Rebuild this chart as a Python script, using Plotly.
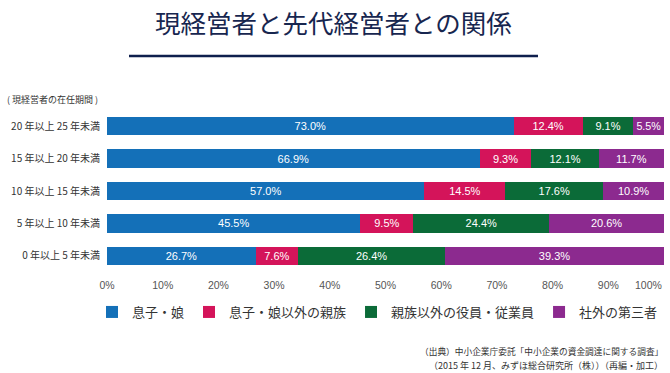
import plotly.graph_objects as go

categories = ["20 年以上 25 年未満", "15 年以上 20 年未満", "10 年以上 15 年未満",
              "5 年以上 10 年未満", "0 年以上 5 年未満"]
series_names = ["息子・娘", "息子・娘以外の親族", "親族以外の役員・従業員", "社外の第三者"]
son_daughter = [73.0, 66.9, 57.0, 45.5, 26.7]
other_relatives = [12.4, 9.3, 14.5, 9.5, 7.6]
employees = [9.1, 12.1, 17.6, 24.4, 26.4]
third_party = [5.5, 11.7, 10.9, 20.6, 39.3]
tick_vals = [0, 10, 20, 30, 40, 50, 60, 70, 80, 90, 100]
tick_text = ["0%", "10%", "20%", "30%", "40%", "50%", "60%", "70%", "80%", "90%", "100%"]

colors = ["#1470b8", "#d4145a", "#0b6b38", "#8c2a8f"]
values = [son_daughter, other_relatives, employees, third_party]

W, H = 670, 373
L, R, T, B = 107, 6, 110, 101
pw = W - L - R
ph = H - T - B

def px2x(px):
    return (px - L) / pw

def px2y(py):
    return (H - B - py) / ph

JP = "Noto Sans CJK JP"
NUM = "Liberation Sans, Noto Sans CJK JP"
TICKFONT = dict(size=10.5, family=NUM, color="#555555")

fig = go.Figure()
for name, vals, c in zip(series_names, values, colors):
    fig.add_trace(go.Bar(
        y=categories, x=vals, name=name, orientation="h",
        marker=dict(color=c, line=dict(width=0)),
        width=0.57,
        text=[f"{v:.1f}%" for v in vals],
        textposition="inside", insidetextanchor="middle",
        textfont=dict(color="white", size=11, family=NUM),
        textangle=0,
        hoverinfo="skip",
    ))

fig.update_layout(
    width=W, height=H,
    barmode="stack",
    margin=dict(l=L, r=R, t=T, b=B, pad=0),
    paper_bgcolor="white", plot_bgcolor="white",
    font=dict(family=JP, color="#333333"),
    showlegend=True,
    legend=dict(orientation="h", x=px2x(92), xanchor="left", y=px2y(312), yanchor="middle",
                font=dict(size=13, family=JP, color="#333333"),
                traceorder="normal"),
    xaxis=dict(range=[0, 100], tickvals=tick_vals[:-1], ticktext=tick_text[:-1], showgrid=False,
               zeroline=False, showline=False, ticks="", ticklabelstandoff=5,
               automargin=False, tickfont=TICKFONT, fixedrange=True),
    yaxis=dict(autorange="reversed", showgrid=False, zeroline=False, showline=False,
               ticks="", ticklabelstandoff=6, automargin=False,
               tickfont=dict(size=10, family=JP, color="#333333")),
)

# last tick label kept inside the figure (right-aligned at its tick)
fig.add_annotation(text=tick_text[-1], xref="x", yref="paper", x=tick_vals[-1], y=px2y(285),
                   xanchor="right", yanchor="middle", showarrow=False, font=TICKFONT)

# title
fig.add_annotation(text="現経営者と先代経営者との関係", xref="paper", yref="paper",
                   x=px2x(333), y=px2y(21), xanchor="center", yanchor="middle",
                   showarrow=False, font=dict(size=25.5, color="#17264f", family=JP))
fig.add_shape(type="line", xref="paper", yref="paper",
              x0=px2x(129), x1=px2x(538), y0=px2y(56), y1=px2y(56),
              line=dict(color="#0f1f4d", width=2.5))
fig.add_annotation(text="( 現経営者の在任期間 )", xref="paper", yref="paper",
                   x=px2x(5), y=px2y(100), xanchor="left", yanchor="middle",
                   showarrow=False, font=dict(size=9, color="#333333", family=JP))
fig.add_annotation(text="（出典）中小企業庁委託「中小企業の資金調達に関する調査」",
                   xref="paper", yref="paper", x=px2x(665), y=px2y(351),
                   xanchor="right", yanchor="middle", showarrow=False,
                   font=dict(size=8.7, color="#333333", family=JP))
fig.add_annotation(text="（2015 年 12 月、みずほ総合研究所（株））（再編・加工）",
                   xref="paper", yref="paper", x=px2x(665), y=px2y(365.5),
                   xanchor="right", yanchor="middle", showarrow=False,
                   font=dict(size=9.0, color="#333333", family=JP))

fig.write_html("out.html", config={"displayModeBar": False},
               post_script="document.body.style.margin='0';document.body.style.overflow='hidden';")
